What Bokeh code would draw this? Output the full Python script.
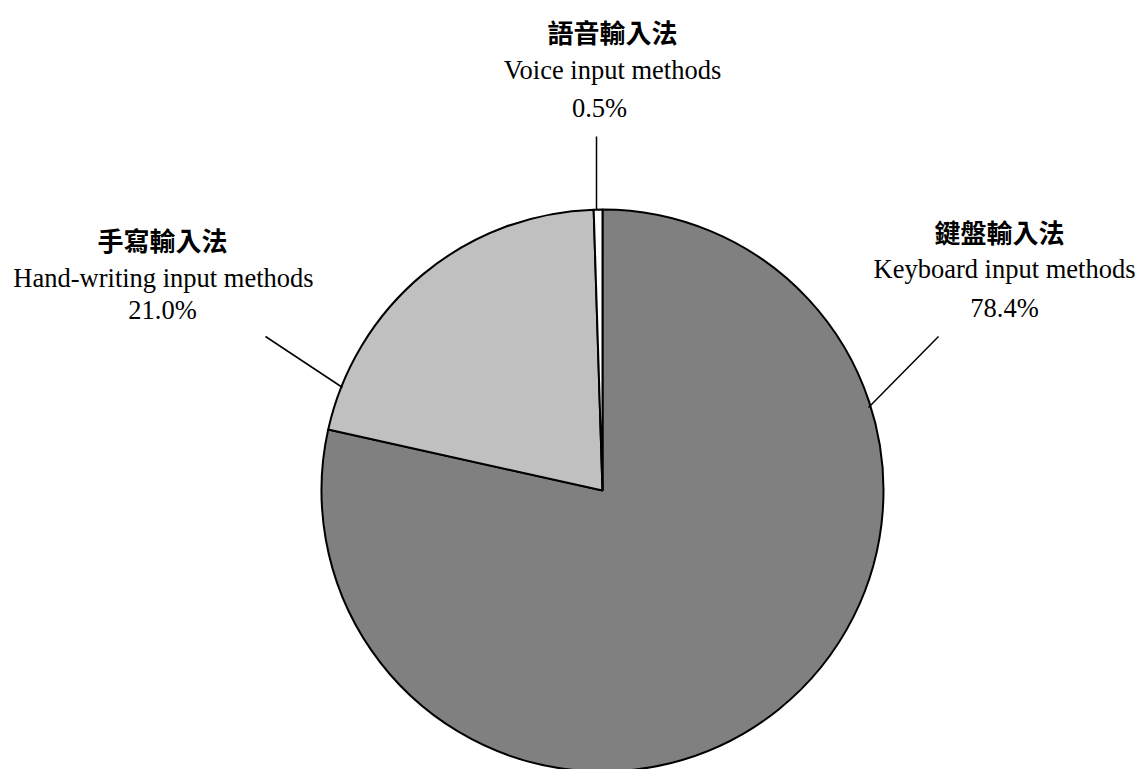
import math
from bokeh.plotting import figure
from bokeh.models import Range1d, ColumnDataSource
from bokeh.core.properties import value
from bokeh.embed import file_html
from bokeh.resources import INLINE

# ---- data ----
categories_zh = ["鍵盤輸入法", "手寫輸入法", "語音輸入法"]
categories_en = ["Keyboard input methods", "Hand-writing input methods", "Voice input methods"]
shares = [78.4, 21.0, 0.5]
share_labels = ["78.4%", "21.0%", "0.5%"]
colors = ["#808080", "#c0c0c0", "#ffffff"]

# ---- layout ----
W, H = 1139, 769
def sx(x):  # screen x -> data x
    return x
def sy(y):  # screen y -> data y
    return H - y

cx, cy, R = sx(602), sy(490), 281

total = sum(shares)
starts, ends = [], []
acc = 0.0
for s in shares:
    a0 = math.pi / 2 - 2 * math.pi * acc / total
    acc += s
    a1 = math.pi / 2 - 2 * math.pi * acc / total
    starts.append(a0)
    ends.append(a1)

src = ColumnDataSource(dict(start=starts, end=ends, color=colors,
                            x=[cx] * 3, y=[cy] * 3))

p = figure(width=W, height=H, output_backend="svg", toolbar_location=None,
           x_range=Range1d(0, W), y_range=Range1d(0, H), min_border=0)
p.axis.visible = False
p.grid.visible = False
p.outline_line_color = None
p.background_fill_color = "white"
p.border_fill_color = "white"

p.wedge(x="x", y="y", radius=R, start_angle="start", end_angle="end",
        direction="clock", fill_color="color", line_color="black", line_width=2,
        source=src)

# leader lines (screen coordinates of label anchors and pie edge)
leaders = [((938, 336), (868, 407)), ((265, 336), (342, 387)), ((596, 136), (596, 209))]
for (x0, y0), (x1, y1) in leaders:
    p.line([sx(x0), sx(x1)], [sy(y0), sy(y1)], line_color="black", line_width=1.5)

# label positions: (x center zh, baseline zh, x center en, baseline en, x center pct, baseline pct)
label_pos = [
    (999, 231, 1004, 268, 1004, 307),
    (162, 239, 163, 277, 162, 309),
    (612, 31, 612, 69, 599, 107),
]
for i, (xz, yz, xe, ye, xp, yp) in enumerate(label_pos):
    p.text(x=[sx(xz)], y=[sy(yz)], text=[categories_zh[i]], text_align="center",
           text_baseline="alphabetic", text_font=value("Noto Sans CJK TC"),
           text_font_size="26px", text_font_style="bold", text_color="black")
    p.text(x=[sx(xe)], y=[sy(ye)], text=[categories_en[i]], text_align="center",
           text_baseline="alphabetic", text_font=value("Liberation Serif"),
           text_font_size="26.5px", text_color="black")
    p.text(x=[sx(xp)], y=[sy(yp)], text=[share_labels[i]], text_align="center",
           text_baseline="alphabetic", text_font=value("Liberation Serif"),
           text_font_size="26.5px", text_color="black")

open("out.html", "w").write(file_html(p, INLINE))
